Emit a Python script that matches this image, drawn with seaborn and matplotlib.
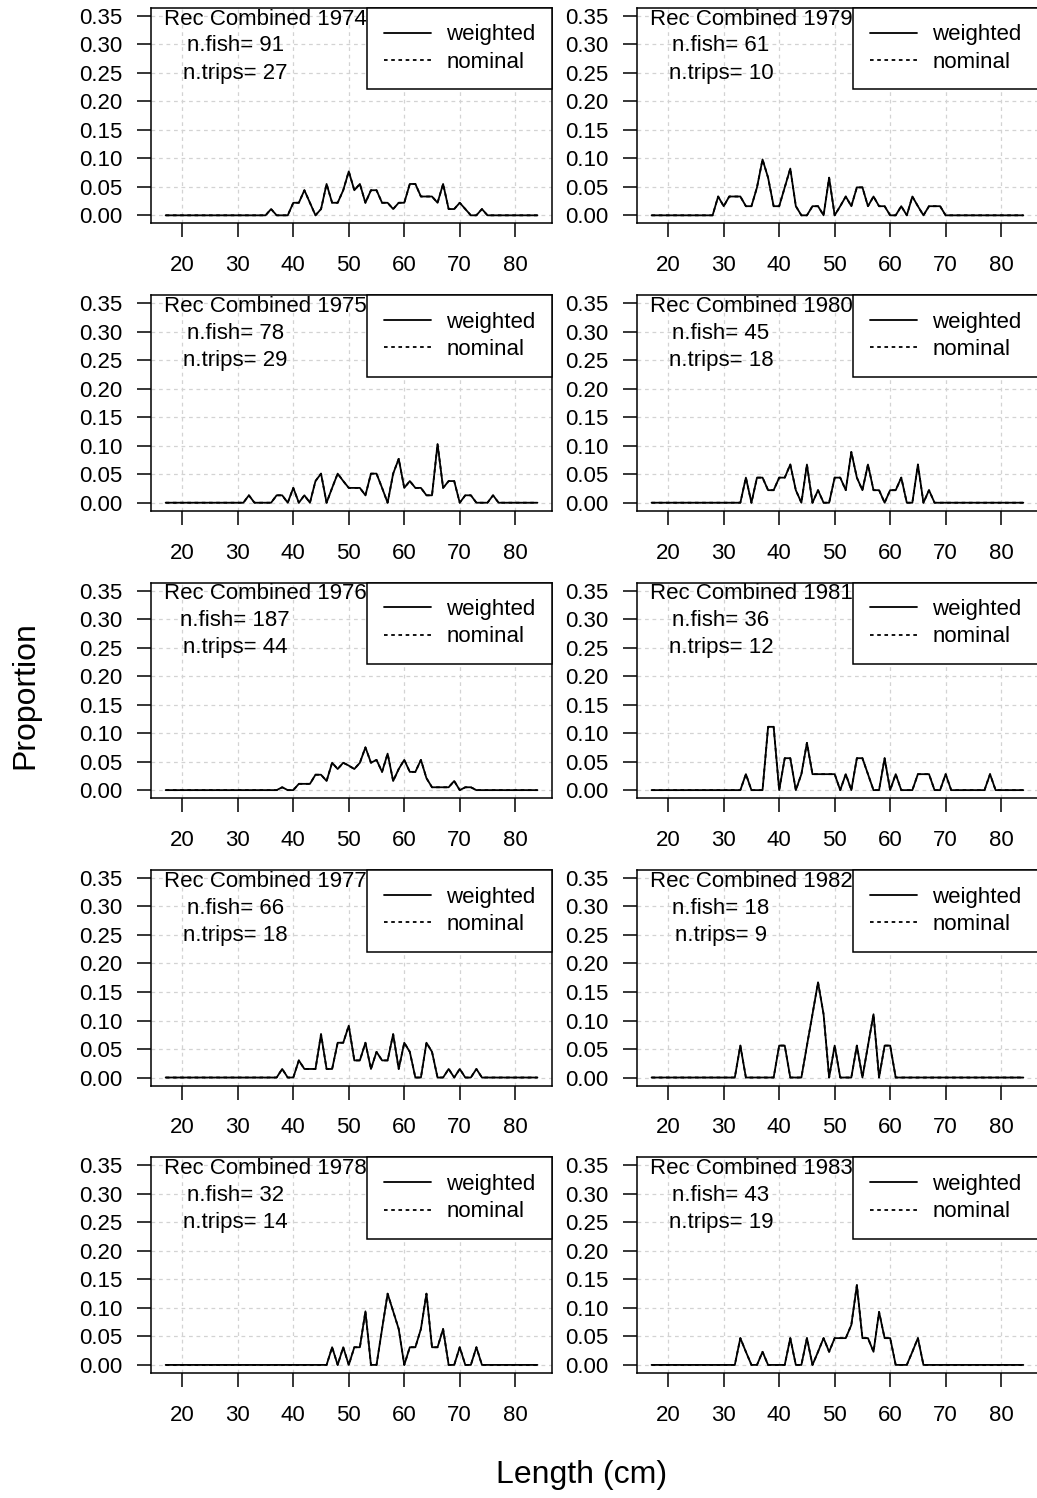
import numpy as np
import pandas as pd
import matplotlib
matplotlib.use("Agg")
import matplotlib.pyplot as plt
import seaborn as sns

# ---- data -------------------------------------------------------------
length_cm = list(range(17, 85))

years = [1974, 1975, 1976, 1977, 1978, 1979, 1980, 1981, 1982, 1983]
n_fish = [91, 78, 187, 66, 32, 61, 45, 36, 18, 43]
n_trips = [27, 29, 44, 18, 14, 10, 18, 12, 9, 19]

# proportions at length, 17..84 cm
prop_1974 = [0] * 10 + \
    [0, 0, 0, 0, 0, 0, 0, 0, 0, 0.011] + \
    [0, 0, 0, 0.022, 0.022, 0.044, 0.022, 0, 0.011, 0.055] + \
    [0.022, 0.022, 0.044, 0.077, 0.044, 0.055, 0.022, 0.044, 0.044, 0.022] + \
    [0.022, 0.011, 0.022, 0.022, 0.055, 0.055, 0.033, 0.033, 0.033, 0.022] + \
    [0.055, 0.011, 0.011, 0.022, 0.011, 0, 0, 0.011, 0, 0] + \
    [0] * 8

prop_1975 = [0] * 10 + \
    [0, 0, 0, 0, 0, 0.013, 0, 0, 0, 0] + \
    [0.013, 0.013, 0, 0.026, 0, 0.013, 0, 0.038, 0.051, 0] + \
    [0.026, 0.051, 0.038, 0.026, 0.026, 0.026, 0.013, 0.051, 0.051, 0.026] + \
    [0, 0.051, 0.077, 0.026, 0.038, 0.026, 0.026, 0.013, 0.013, 0.103] + \
    [0.026, 0.038, 0.038, 0, 0.013, 0.013, 0, 0, 0, 0.013] + \
    [0] * 8

prop_1976 = [0] * 10 + \
    [0] * 10 + \
    [0, 0.005, 0, 0, 0.011, 0.011, 0.011, 0.027, 0.027, 0.016] + \
    [0.048, 0.037, 0.048, 0.043, 0.037, 0.048, 0.075, 0.048, 0.053, 0.032] + \
    [0.064, 0.016, 0.037, 0.053, 0.032, 0.032, 0.053, 0.021, 0.005, 0.005] + \
    [0.005, 0.005, 0.016, 0, 0.005, 0.005, 0, 0, 0, 0] + \
    [0] * 8

prop_1977 = [0] * 10 + \
    [0] * 10 + \
    [0, 0.015, 0, 0, 0.030, 0.015, 0.015, 0.015, 0.076, 0.015] + \
    [0.015, 0.061, 0.061, 0.091, 0.030, 0.030, 0.061, 0.015, 0.045, 0.030] + \
    [0.030, 0.076, 0.015, 0.061, 0.045, 0, 0, 0.061, 0.045, 0] + \
    [0, 0.015, 0, 0.015, 0, 0, 0.015, 0, 0, 0] + \
    [0] * 8

prop_1978 = [0] * 10 + \
    [0] * 10 + \
    [0] * 10 + \
    [0.031, 0, 0.031, 0, 0.031, 0.031, 0.094, 0, 0, 0.063] + \
    [0.125, 0.094, 0.063, 0, 0.031, 0.031, 0.063, 0.125, 0.031, 0.031] + \
    [0.063, 0, 0, 0.031, 0, 0, 0.031, 0, 0, 0] + \
    [0] * 8

prop_1979 = [0] * 10 + \
    [0, 0, 0.033, 0.016, 0.033, 0.033, 0.033, 0.016, 0.016, 0.049] + \
    [0.098, 0.066, 0.016, 0.016, 0.049, 0.082, 0.016, 0, 0, 0.016] + \
    [0.016, 0, 0.066, 0, 0.016, 0.033, 0.016, 0.049, 0.049, 0.016] + \
    [0.033, 0.016, 0.016, 0, 0, 0.016, 0, 0.033, 0.016, 0] + \
    [0.016, 0.016, 0.016, 0, 0, 0, 0, 0, 0, 0] + \
    [0] * 8

prop_1980 = [0] * 10 + \
    [0, 0, 0, 0, 0, 0, 0, 0.044, 0, 0.044] + \
    [0.044, 0.022, 0.022, 0.044, 0.044, 0.067, 0.022, 0, 0.067, 0] + \
    [0.022, 0, 0, 0.044, 0.044, 0.022, 0.089, 0.044, 0.022, 0.067] + \
    [0.022, 0.022, 0, 0.022, 0.022, 0.044, 0, 0, 0.067, 0] + \
    [0.022, 0, 0, 0, 0, 0, 0, 0, 0, 0] + \
    [0] * 8

prop_1981 = [0] * 10 + \
    [0, 0, 0, 0, 0, 0, 0, 0.028, 0, 0] + \
    [0, 0.111, 0.111, 0, 0.056, 0.056, 0, 0.028, 0.083, 0.028] + \
    [0.028, 0.028, 0.028, 0.028, 0, 0.028, 0, 0.056, 0.056, 0.028] + \
    [0, 0, 0.056, 0, 0.028, 0, 0, 0, 0.028, 0.028] + \
    [0.028, 0, 0, 0.028, 0, 0, 0, 0, 0, 0] + \
    [0, 0.028, 0, 0, 0, 0, 0, 0]

prop_1982 = [0] * 10 + \
    [0, 0, 0, 0, 0, 0, 0.056, 0, 0, 0] + \
    [0, 0, 0, 0.056, 0.056, 0, 0, 0, 0.056, 0.111] + \
    [0.167, 0.111, 0, 0.056, 0, 0, 0, 0.056, 0, 0.056] + \
    [0.111, 0, 0.056, 0.056, 0, 0, 0, 0, 0, 0] + \
    [0] * 10 + \
    [0] * 8

prop_1983 = [0] * 10 + \
    [0, 0, 0, 0, 0, 0, 0.047, 0.023, 0, 0] + \
    [0.023, 0, 0, 0, 0, 0.047, 0, 0, 0.047, 0] + \
    [0.023, 0.047, 0.023, 0.047, 0.047, 0.047, 0.070, 0.140, 0.047, 0.047] + \
    [0.023, 0.093, 0.047, 0.047, 0, 0, 0, 0.023, 0.047, 0] + \
    [0] * 10 + \
    [0] * 8

weighted = {1974: prop_1974, 1975: prop_1975, 1976: prop_1976,
            1977: prop_1977, 1978: prop_1978, 1979: prop_1979,
            1980: prop_1980, 1981: prop_1981, 1982: prop_1982,
            1983: prop_1983}
# nominal proportions coincide with the weighted ones for these years
nominal = weighted

x_ticks = [20, 30, 40, 50, 60, 70, 80]
y_ticks = [0.00, 0.05, 0.10, 0.15, 0.20, 0.25, 0.30, 0.35]
y_tick_labels = ["0.00", "0.05", "0.10", "0.15", "0.20", "0.25", "0.30", "0.35"]

# ---- style ------------------------------------------------------------
sns.set_style("white")
plt.rcParams["font.family"] = ["Liberation Sans", "DejaVu Sans"]
plt.rcParams["text.color"] = "black"
plt.rcParams["axes.labelcolor"] = "black"
plt.rcParams["xtick.color"] = "black"
plt.rcParams["ytick.color"] = "black"
FS = 16

W, H = 1037, 1498
fig = plt.figure(figsize=(W / 100, H / 100), dpi=100)

col_left = [150.8, 636.7]
ax_w = 401.5
row_zero = [215.3 + 287.4 * k for k in range(5)]
ax_h = 215.5

for i, year in enumerate(years):
    col = i // 5
    row = i % 5
    top_px = row_zero[row] - 207.5
    ax = fig.add_axes([col_left[col] / W, 1 - (top_px + ax_h) / H,
                       ax_w / W, ax_h / H])

    df = pd.DataFrame({"length": length_cm,
                       "weighted": weighted[year],
                       "nominal": nominal[year]})

    ax.grid(True, color="#d3d3d3", linestyle=(0, (3, 3)), linewidth=0.9)
    ax.set_axisbelow(True)

    sns.lineplot(data=df, x="length", y="nominal", ax=ax, color="black",
                 linewidth=1.3, linestyle=(0, (2, 2)), estimator=None,
                 sort=False, label="nominal")
    sns.lineplot(data=df, x="length", y="weighted", ax=ax, color="black",
                 linewidth=1.3, estimator=None, sort=False, label="weighted")

    ax.set_xlim(14.32, 86.68)
    ax.set_ylim(-0.014, 0.364)
    ax.set_xticks(x_ticks)
    ax.set_xticklabels([str(t) for t in x_ticks])
    ax.set_yticks(y_ticks)
    ax.set_yticklabels(y_tick_labels)
    ax.set_xlabel("")
    ax.set_ylabel("")
    ax.tick_params(axis="both", direction="out", length=10, width=1.1,
                   labelsize=FS, colors="black", bottom=True, left=True)
    ax.tick_params(axis="x", pad=13)
    ax.tick_params(axis="y", pad=10.5)
    for sp in ax.spines.values():
        sp.set_visible(True)
        sp.set_color("black")
        sp.set_linewidth(1.1)

    handles, labels = ax.get_legend_handles_labels()
    order = [labels.index("weighted"), labels.index("nominal")]
    leg = ax.legend([handles[k] for k in order], [labels[k] for k in order],
                    loc="upper right", bbox_to_anchor=(1, 1), borderaxespad=0,
                    frameon=True, fancybox=False, edgecolor="black",
                    framealpha=1, fontsize=FS, handlelength=2.1,
                    handletextpad=0.7, borderpad=0.75, labelspacing=0.28)
    leg.get_frame().set_linewidth(1.1)
    for t in leg.get_texts():
        t.set_color("black")

    ax.text(0.032, 0.948, f"Rec Combined {year}", transform=ax.transAxes,
            ha="left", va="center", fontsize=FS, color="black")
    ax.text(0.21, 0.823, f"n.fish= {n_fish[i]}", transform=ax.transAxes,
            ha="center", va="center", fontsize=FS, color="black")
    ax.text(0.21, 0.697, f"n.trips= {n_trips[i]}", transform=ax.transAxes,
            ha="center", va="center", fontsize=FS, color="black")

fig.text(25 / W, 1 - 695 / H, "Proportion", rotation=90, fontsize=23,
         ha="center", va="center", color="black")
fig.text(582 / W, 1 - 1475 / H, "Length (cm)", fontsize=23,
         ha="center", va="center", color="black")

fig.savefig("out.png", dpi=100, facecolor="white")
